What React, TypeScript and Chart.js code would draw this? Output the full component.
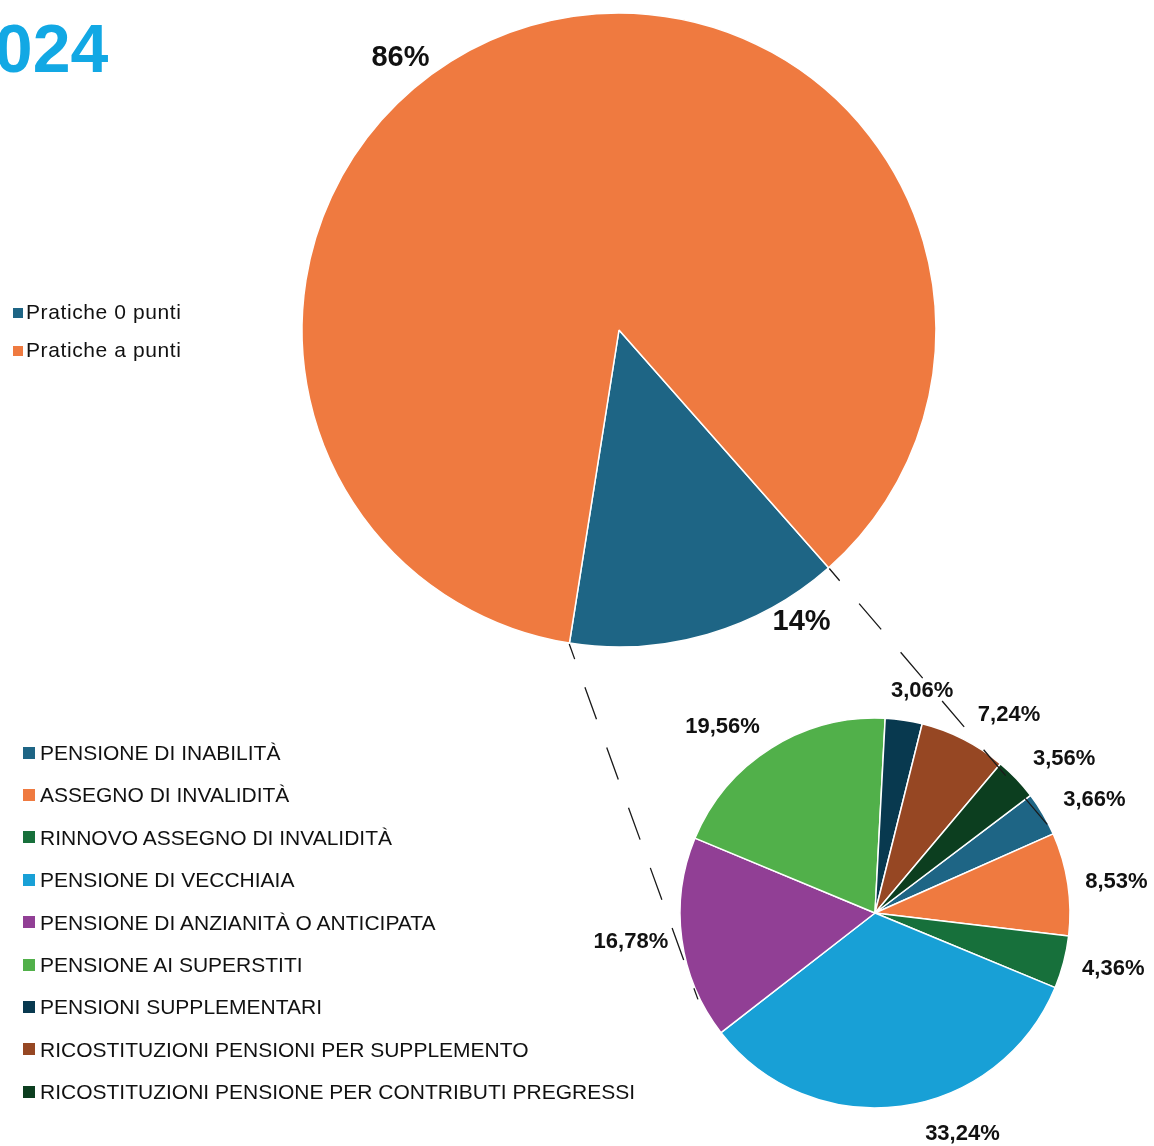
import React, { useEffect, useRef } from "react";
import { Chart, registerables } from "chart.js";

Chart.register(...registerables);

const W = 1154;
const H = 1146;

// ---- main pie ----
const mainLabels = ["Pratiche 0 punti", "Pratiche a punti"];
const mainValues = [14, 86];
const mainColors = ["#1e6585", "#ef7a40"];

// ---- detail pie ----
const detailLabels = [
  "PENSIONE DI INABILITÀ",
  "ASSEGNO DI INVALIDITÀ",
  "RINNOVO ASSEGNO DI INVALIDITÀ",
  "PENSIONE DI VECCHIAIA",
  "PENSIONE DI ANZIANITÀ O ANTICIPATA",
  "PENSIONE AI SUPERSTITI",
  "PENSIONI SUPPLEMENTARI",
  "RICOSTITUZIONI PENSIONI PER SUPPLEMENTO",
  "RICOSTITUZIONI PENSIONE PER CONTRIBUTI PREGRESSI",
];
const detailValues = [3.66, 8.53, 4.36, 33.24, 16.78, 19.56, 3.06, 7.24, 3.56];
const detailColors = [
  "#1e6585",
  "#ef7a40",
  "#17703b",
  "#18a0d6",
  "#913f95",
  "#51b04a",
  "#08394f",
  "#964723",
  "#0c3e1f",
];

const titleText = "2024";

// label nudges (px) applied after the automatic outside placement
const mainLabelNudge = [
  [81, -39],
  [-117, 59],
];
const detailLabelNudge = [
  [9, -1],
  [0, 2],
  [2, 0],
  [54, 2],
  [4, 0],
  [-19, 1],
  [11, -3],
  [23, -1],
  [12, -2],
];
// angles (deg, screen) on the detail pie where the connector lines end
const connectorEndAngles = [154, -23.6];

const FONT = '"Liberation Sans", Arial, sans-serif';

function outLabels(
  id: string,
  format: (v: number) => string,
  font: string,
  nudges: number[][],
  gap: number,
  hh: number
) {
  return {
    id,
    afterDatasetsDraw(chart: any) {
      const ctx = chart.ctx;
      const meta = chart.getDatasetMeta(0);
      const data = chart.data.datasets[0].data as number[];
      ctx.save();
      ctx.font = font;
      ctx.fillStyle = "#111111";
      ctx.textAlign = "center";
      ctx.textBaseline = "middle";
      meta.data.forEach((arc: any, i: number) => {
        const p = arc.getProps(["x", "y", "startAngle", "endAngle", "outerRadius"], true);
        const mid = (p.startAngle + p.endAngle) / 2;
        const c = Math.cos(mid);
        const s = Math.sin(mid);
        const txt = format(data[i]);
        const hw = ctx.measureText(txt).width / 2;
        const n = nudges[i] || [0, 0];
        const x = p.x + (p.outerRadius + gap) * c + c * hw + n[0];
        const y = p.y + (p.outerRadius + gap) * s + s * hh + n[1];
        ctx.fillText(txt, x, y);
      });
      ctx.restore();
    },
  };
}

export default function App() {
  const mainRef = useRef<HTMLCanvasElement | null>(null);
  const detailRef = useRef<HTMLCanvasElement | null>(null);

  useEffect(() => {
    if (!mainRef.current || !detailRef.current) return;

    const mainChart = new Chart(mainRef.current, {
      type: "pie",
      data: {
        labels: mainLabels,
        datasets: [
          {
            data: mainValues,
            backgroundColor: mainColors,
            borderColor: "#ffffff",
            borderWidth: 1.5,
          },
        ],
      },
      options: {
        responsive: false,
        animation: false,
        rotation: 138.6,
        radius: 317,
        layout: { padding: { left: 302, right: 218, top: 13, bottom: 499 } },
        plugins: { legend: { display: false }, tooltip: { enabled: false } },
      } as any,
      plugins: [
        outLabels("mainLabels", (v) => `${v}%`, `bold 29px ${FONT}`, mainLabelNudge, 18, 10),
      ],
    });

    const connectors = {
      id: "connectors",
      afterDatasetsDraw(chart: any) {
        const b = mainChart.getDatasetMeta(0).data[0] as any;
        const bp = b.getProps(["x", "y", "startAngle", "endAngle", "outerRadius"], true);
        const d = chart.getDatasetMeta(0).data[0] as any;
        const dp = d.getProps(["x", "y", "outerRadius"], true);
        const starts = [bp.endAngle, bp.startAngle];
        const ctx = chart.ctx;
        ctx.save();
        ctx.strokeStyle = "#1a1a1a";
        ctx.lineWidth = 1.3;
        ctx.setLineDash([34, 30]);
        ctx.lineDashOffset = 18;
        starts.forEach((a: number, k: number) => {
          const e = (connectorEndAngles[k] * Math.PI) / 180;
          ctx.beginPath();
          ctx.moveTo(bp.x + (bp.outerRadius + 1) * Math.cos(a), bp.y + (bp.outerRadius + 1) * Math.sin(a));
          ctx.lineTo(dp.x + (dp.outerRadius + 2) * Math.cos(e), dp.y + (dp.outerRadius + 2) * Math.sin(e));
          ctx.stroke();
        });
        ctx.restore();
      },
    };

    const detailChart = new Chart(detailRef.current, {
      type: "pie",
      data: {
        labels: detailLabels,
        datasets: [
          {
            data: detailValues,
            backgroundColor: detailColors,
            borderColor: "#ffffff",
            borderWidth: 1.5,
          },
        ],
      },
      options: {
        responsive: false,
        animation: false,
        rotation: 52.9,
        radius: 195,
        layout: { padding: { left: 680, right: 84, top: 718, bottom: 38 } },
        plugins: { legend: { display: false }, tooltip: { enabled: false } },
      } as any,
      plugins: [
        connectors,
        outLabels(
          "detailLabels",
          (v) => `${v.toFixed(2).replace(".", ",")}%`,
          `bold 22px ${FONT}`,
          detailLabelNudge,
          18,
          8
        ),
      ],
    });

    return () => {
      detailChart.destroy();
      mainChart.destroy();
    };
  }, []);

  const canvasStyle: React.CSSProperties = {
    position: "absolute",
    left: 0,
    top: 0,
    width: W,
    height: H,
  };

  return (
    <div
      style={{
        position: "absolute",
        left: 0,
        top: 0,
        width: W,
        height: H,
        overflow: "hidden",
        background: "#ffffff",
        fontFamily: FONT,
      }}
    >
      <div
        style={{
          position: "absolute",
          left: -43,
          top: 14,
          fontSize: 68,
          lineHeight: "68px",
          fontWeight: "bold",
          color: "#12a8e4",
          whiteSpace: "nowrap",
        }}
      >
        {titleText}
      </div>
      <canvas ref={mainRef} width={W} height={H} style={canvasStyle} />
      <canvas ref={detailRef} width={W} height={H} style={canvasStyle} />
      {mainLabels.map((l, i) => (
        <div
          key={l}
          style={{
            position: "absolute",
            left: 13,
            top: 311.5 - 10.5 + i * 38,
            height: 21,
            display: "flex",
            alignItems: "center",
            whiteSpace: "nowrap",
          }}
        >
          <span
            style={{
              display: "inline-block",
              width: 10,
              height: 10,
              marginTop: 3,
              background: mainColors[i],
              marginRight: 3,
            }}
          />
          <span style={{ fontSize: 21, lineHeight: "21px", letterSpacing: 0.6, color: "#111" }}>{l}</span>
        </div>
      ))}
      {detailLabels.map((l, i) => (
        <div
          key={l}
          style={{
            position: "absolute",
            left: 23,
            top: 752.5 - 10.5 + i * 42.4,
            height: 21,
            display: "flex",
            alignItems: "center",
            whiteSpace: "nowrap",
          }}
        >
          <span
            style={{
              display: "inline-block",
              width: 12,
              height: 12,
              background: detailColors[i],
              marginRight: 5,
            }}
          />
          <span style={{ fontSize: 21, lineHeight: "21px", color: "#111" }}>{l}</span>
        </div>
      ))}
    </div>
  );
}
